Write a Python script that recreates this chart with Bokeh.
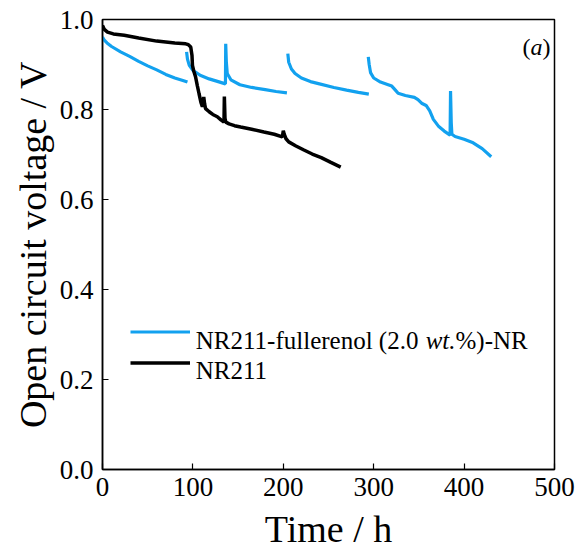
from bokeh.plotting import figure
from bokeh.models import Range1d, FixedTicker, Legend, LegendItem, Label, PrintfTickFormatter
from bokeh.embed import file_html
from bokeh.resources import INLINE

# ---------------- data ----------------
# NR211-fullerenol (2.0 wt.%)-NR : separate test segments
blue_t1 = [0, 2, 5, 10, 20, 30, 40, 50, 60, 70, 80, 88, 94]
blue_v1 = [0.961, 0.954, 0.948, 0.940, 0.928, 0.918, 0.907, 0.897, 0.888, 0.878, 0.870, 0.865, 0.861]

blue_t2 = [93, 94, 96, 100, 108, 118, 128, 136, 136.3, 137, 138, 142, 152, 165, 180, 192, 204]
blue_v2 = [0.928, 0.912, 0.898, 0.887, 0.876, 0.868, 0.862, 0.857, 0.946, 0.905, 0.880, 0.866, 0.855, 0.849, 0.844, 0.840, 0.837]

blue_t3 = [205, 206, 209, 213, 220, 230, 240, 256, 270, 283, 294.6]
blue_v3 = [0.924, 0.905, 0.890, 0.880, 0.870, 0.862, 0.857, 0.849, 0.843, 0.838, 0.834]

blue_t4 = [294, 295, 296.5, 300, 307.5, 316, 320, 324, 327, 335, 345, 349, 353, 358, 362, 366,
           372, 378, 384.5, 385, 385.8, 386.5, 390, 400, 410, 420, 430]
blue_v4 = [0.917, 0.900, 0.882, 0.870, 0.861, 0.855, 0.852, 0.843, 0.836, 0.831, 0.827, 0.822, 0.814,
           0.809, 0.797, 0.778, 0.762, 0.752, 0.743, 0.841, 0.770, 0.745, 0.740, 0.734, 0.726, 0.713, 0.695]

# NR211
black_t = [0, 2, 5.5, 12, 24, 40, 60, 80, 92, 95, 97.6, 99, 99.5, 101, 103, 105, 106.8, 109, 110.5,
           112, 113, 114, 118, 122, 127, 131, 134.4, 134.8, 135.5, 136.4, 140, 146, 152.8, 165,
           178.6, 190, 198.9, 200, 201, 203, 206, 214, 222.8, 232, 242, 252, 263.5]
black_v = [0.987, 0.978, 0.972, 0.968, 0.965, 0.959, 0.952, 0.948, 0.946, 0.944, 0.939, 0.920, 0.898,
           0.885, 0.872, 0.852, 0.835, 0.815, 0.806, 0.828, 0.812, 0.802, 0.795, 0.789, 0.784, 0.777,
           0.772, 0.829, 0.780, 0.772, 0.768, 0.764, 0.761, 0.756, 0.750, 0.745, 0.739, 0.753, 0.745,
           0.735, 0.728, 0.719, 0.710, 0.701, 0.693, 0.683, 0.672]

x_ticks = [0, 100, 200, 300, 400, 500]
y_ticks = [0.0, 0.2, 0.4, 0.6, 0.8, 1.0]

label_blue = "NR211-fullerenol (2.0 wt.%)-NR"
label_black = "NR211"
x_title = "Time / h"
y_title = "Open circuit voltage / V"

# ---------------- style ----------------
FONT = "Liberation Serif, Times New Roman, serif"
BLUE = "#12A1EF"

p = figure(width=579, height=553, output_backend="svg", toolbar_location=None,
           x_range=Range1d(0, 500), y_range=Range1d(0, 1.0),
           min_border_left=102, min_border_right=25, min_border_top=19, min_border_bottom=84)

p.grid.visible = False
p.outline_line_color = "black"
p.outline_line_width = 1.5
p.background_fill_color = "white"
p.border_fill_color = "white"

blue = p.multi_line(xs=[blue_t1, blue_t2, blue_t3, blue_t4], ys=[blue_v1, blue_v2, blue_v3, blue_v4],
                    line_color=BLUE, line_width=3.2)
black = p.line(black_t, black_v, line_color="black", line_width=3.5)

for ax in (p.xaxis[0], p.yaxis[0]):
    ax.axis_line_color = "black"
    ax.axis_line_width = 1.5
    ax.major_tick_line_color = "black"
    ax.major_tick_line_width = 1.2
    ax.major_tick_in = 6
    ax.major_tick_out = 0
    ax.minor_tick_in = 0
    ax.minor_tick_out = 0
    ax.major_label_text_font = FONT
    ax.major_label_text_font_size = "27px"
    ax.major_label_text_color = "black"
    ax.axis_label_text_font = FONT
    ax.axis_label_text_font_size = "38px"
    ax.axis_label_text_font_style = "normal"
    ax.axis_label_text_color = "black"

p.xaxis[0].ticker = FixedTicker(ticks=x_ticks)
p.yaxis[0].ticker = FixedTicker(ticks=y_ticks)
p.xaxis[0].formatter = PrintfTickFormatter(format="%d")
p.yaxis[0].formatter = PrintfTickFormatter(format="%.1f")
p.xaxis[0].axis_label = x_title
p.yaxis[0].axis_label = y_title
p.xaxis[0].major_label_standoff = 8
p.xaxis[0].axis_label_standoff = 9
p.yaxis[0].major_label_standoff = 9
p.yaxis[0].axis_label_standoff = 3

legend = Legend(items=[LegendItem(label=label_blue, renderers=[blue]),
                       LegendItem(label=label_black, renderers=[black])],
                location=(28, 91), padding=0, margin=0, spacing=0,
                glyph_width=60, glyph_height=31, label_height=31, label_standoff=5,
                label_text_alpha=0, border_line_alpha=0, background_fill_alpha=0)
p.add_layout(legend)

def lab(x, y, text, style="normal", size="25px"):
    p.add_layout(Label(x=x, y=y, x_units="screen", y_units="screen", text=text,
                       text_font=FONT, text_font_size=size, text_font_style=style,
                       text_color="black", text_baseline="alphabetic", text_align="left"))

s = 25.0
lab(93.3, 129, "NR211-fullerenol (2.0 ")
lab(93.3 + 9.193 * s, 129, "wt.", "italic")
lab(93.3 + 10.388 * s, 129, "%)-NR")
lab(93.3, 99, label_black)

s2 = 24.0
lab(420, 422.5, "(", size="24px")
lab(420 + 0.333 * s2, 422.5, "a", "italic", size="24px")
lab(420 + 0.833 * s2, 422.5, ")", size="24px")

open("out.html", "w").write(file_html(p, INLINE))
